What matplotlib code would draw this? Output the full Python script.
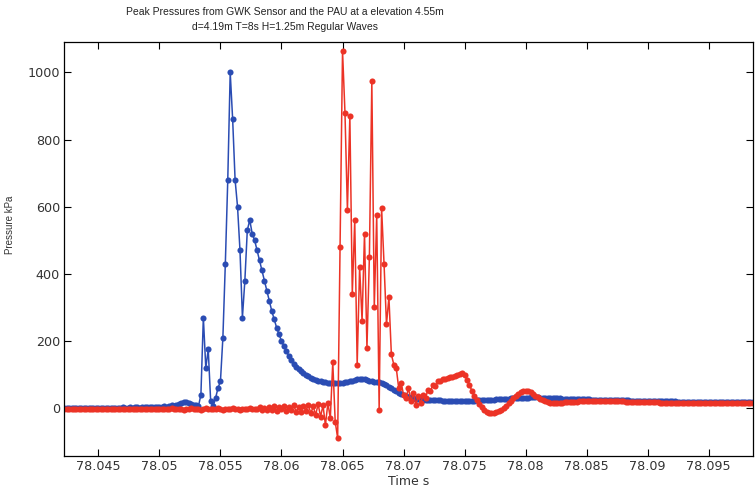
import numpy as np
import matplotlib
matplotlib.use("Agg")
import matplotlib.pyplot as plt

# sampled record: start time and sample period (s)
t_start = 78.0422
dt = 0.0002

# GWK sensor (blue), kPa
gwk = [0, 1, 0, 1, 1, 0, 1, 0, 0, 1, 1, 0, 1, 1, 0, 0, 1, 1, 0, 1,
       1, 1, 0, 1, 2, 1, 1, 2, 1, 2, 2, 1, 2, 2, 3, 2, 3, 3, 2, 3,
       3, 5, 4, 6, 8, 7, 10, 12, 14, 17, 18, 15, 12, 10, 8, 6,
       40, 270, 120, 175, 20, 5, 30, 60, 80, 210, 430, 680, 1000, 860,
       680, 600, 470, 270, 380, 530,
       560, 520, 500, 470, 440, 410, 380, 350, 320, 290, 265, 240, 220,
       200, 185, 170, 155, 143, 133, 124, 116, 110, 104, 99, 95,
       91, 88, 85, 82, 80, 78, 77, 76, 75, 75, 74, 75, 75, 76, 77, 78,
       80, 82, 84, 86, 87, 87, 86, 84, 82, 80, 79, 78, 77,
       75, 72, 68, 64, 60, 55, 50, 46, 42, 39, 36, 34, 32, 30, 28, 27, 26,
       25, 25, 24, 24, 24, 23, 23, 23, 22, 22, 22, 22, 22, 21, 21, 21,
       21, 21, 22, 22, 22, 22, 23, 23,
       23, 24, 24, 24, 25, 25, 26, 26, 27, 27, 28, 28, 29, 29, 30, 30,
       30, 31, 31, 31, 32, 32, 32, 32, 31, 31, 31, 30, 30, 30,
       29, 29, 29, 28, 28, 28, 28, 27, 27, 27, 27, 26, 26, 26, 26, 25,
       25, 25, 25, 25, 24, 24, 24, 24, 24, 23, 23, 23, 23, 23, 23, 22,
       22, 22, 22, 22, 22, 21, 21, 21,
       21, 21, 21, 20, 20, 20, 20, 20, 20, 20, 19, 19, 19, 19, 19, 19,
       19, 19, 18, 18, 18, 18, 18, 18, 18, 18, 18, 18, 18, 18, 18, 17,
       17, 17, 17, 17, 17, 17, 17, 17, 17, 17]

# PAU (red), kPa
pau = [-2, -1, -2, -3, -2, -1, -2, -2, -3, -2, -1, -2, -2, -1, -3, -2,
       -2, -1, -2, -3, -2, -2, -1, -2, -2, -3, -1, -2, -2, -1, -2, -3,
       -2, -1, -2, -2, -1, -3, -2, -2,
       -1, -2, -3, -2, 0, -2, -3, -1, -2, -4, -1, -2, 0, -3, -2, -1,
       -4, -2, 0, -3, -2, -1, -3, 0, -2, -4, -1, -2, -3, 0, -2, -1,
       -4, -2, -3, -1, 0, -3, -2, -1,
       2, -5, 0, -6, 3, -4, 5, -8, 2, -3, 6, -9, 4, -5, 8, -10, 3, -12,
       6, -7, 10, -15, 5, -20, 12, -25, 8, -50, 15, -30,
       137, -40, -89, 480, 1064, 880, 590, 870, 340, 560, 130, 420, 260,
       520, 180, 450, 973, 300, 575, -5, 596, 430, 250, 330, 160, 130,
       120, 60, 75, 40,
       30, 60, 20, 45, 10, 35, 15, 40, 30, 55, 50, 70, 65, 80, 82, 86,
       88, 90, 92, 94, 96, 99, 102, 105, 100, 85, 68, 52, 37, 24,
       12, 3, -5, -10, -13, -14, -13, -11, -8, -4, 1, 7, 14, 22, 30, 37,
       43, 47, 50, 51, 50, 47, 42, 37, 32, 27, 23, 20, 17, 16, 15,
       15, 15, 16, 16, 17, 17, 18, 18, 19, 19, 20, 20, 21, 21, 21, 22,
       22, 22, 22,
       22, 22, 21, 21, 21, 21, 20, 20, 20, 20, 19, 19, 19, 19, 18, 18,
       18, 18, 17, 17, 17,
       17, 17, 17, 16, 16, 16, 16, 16, 16, 16, 16, 15, 15, 15, 16, 16,
       16, 15, 15, 15, 15, 16, 16, 16, 15, 15, 15, 15, 15, 15, 16, 16,
       16, 15, 15, 15, 15, 15, 15, 15, 15, 15]

xticks = [78.045, 78.05, 78.055, 78.06, 78.065, 78.07, 78.075, 78.08, 78.085, 78.09, 78.095]
xticklabels = ["78.045", "78.05", "78.055", "78.06", "78.065", "78.07",
               "78.075", "78.08", "78.085", "78.09", "78.095"]
yticks = [0, 200, 400, 600, 800, 1000]

t_gwk = t_start + dt * np.arange(len(gwk))
t_pau = t_start + dt * np.arange(len(pau))

fig = plt.figure(figsize=(7.55, 4.9), dpi=100)
ax = fig.add_axes([0.085, 0.069, 0.912, 0.845])

ax.plot(t_gwk, gwk, color="#2a4cb3", lw=1.1, marker="o", ms=4.4, mew=0)
ax.plot(t_pau, pau, color="#ec3326", lw=1.1, marker="o", ms=4.4, mew=0)

ax.set_xlim(78.0422, 78.0986)
ax.set_ylim(-143, 1090)
ax.set_xticks(xticks)
ax.set_xticklabels(xticklabels)
ax.set_yticks(yticks)
ax.tick_params(direction="in", length=5, width=0.8, top=True, right=True,
               labelsize=9.2, colors="black", labelcolor="#333333", pad=3)
for s in ax.spines.values():
    s.set_linewidth(0.9)

ax.set_xlabel("Time s", fontsize=9, color="#333333", labelpad=1)
ax.xaxis.set_label_coords(0.5, -0.045)
ax.set_ylabel("Pressure kPa", fontsize=7, family="Liberation Sans", color="#333333")
ax.yaxis.set_label_coords(-0.072, 0.56)

fig.text(0.377, 0.975, "Peak Pressures from GWK Sensor and the PAU at a elevation 4.55m",
         ha="center", va="center", fontsize=7.5, family="Liberation Sans", color="#222222")
fig.text(0.377, 0.945, "d=4.19m T=8s H=1.25m Regular Waves",
         ha="center", va="center", fontsize=7.5, family="Liberation Sans", color="#222222")

fig.savefig("out.png", dpi=100)
